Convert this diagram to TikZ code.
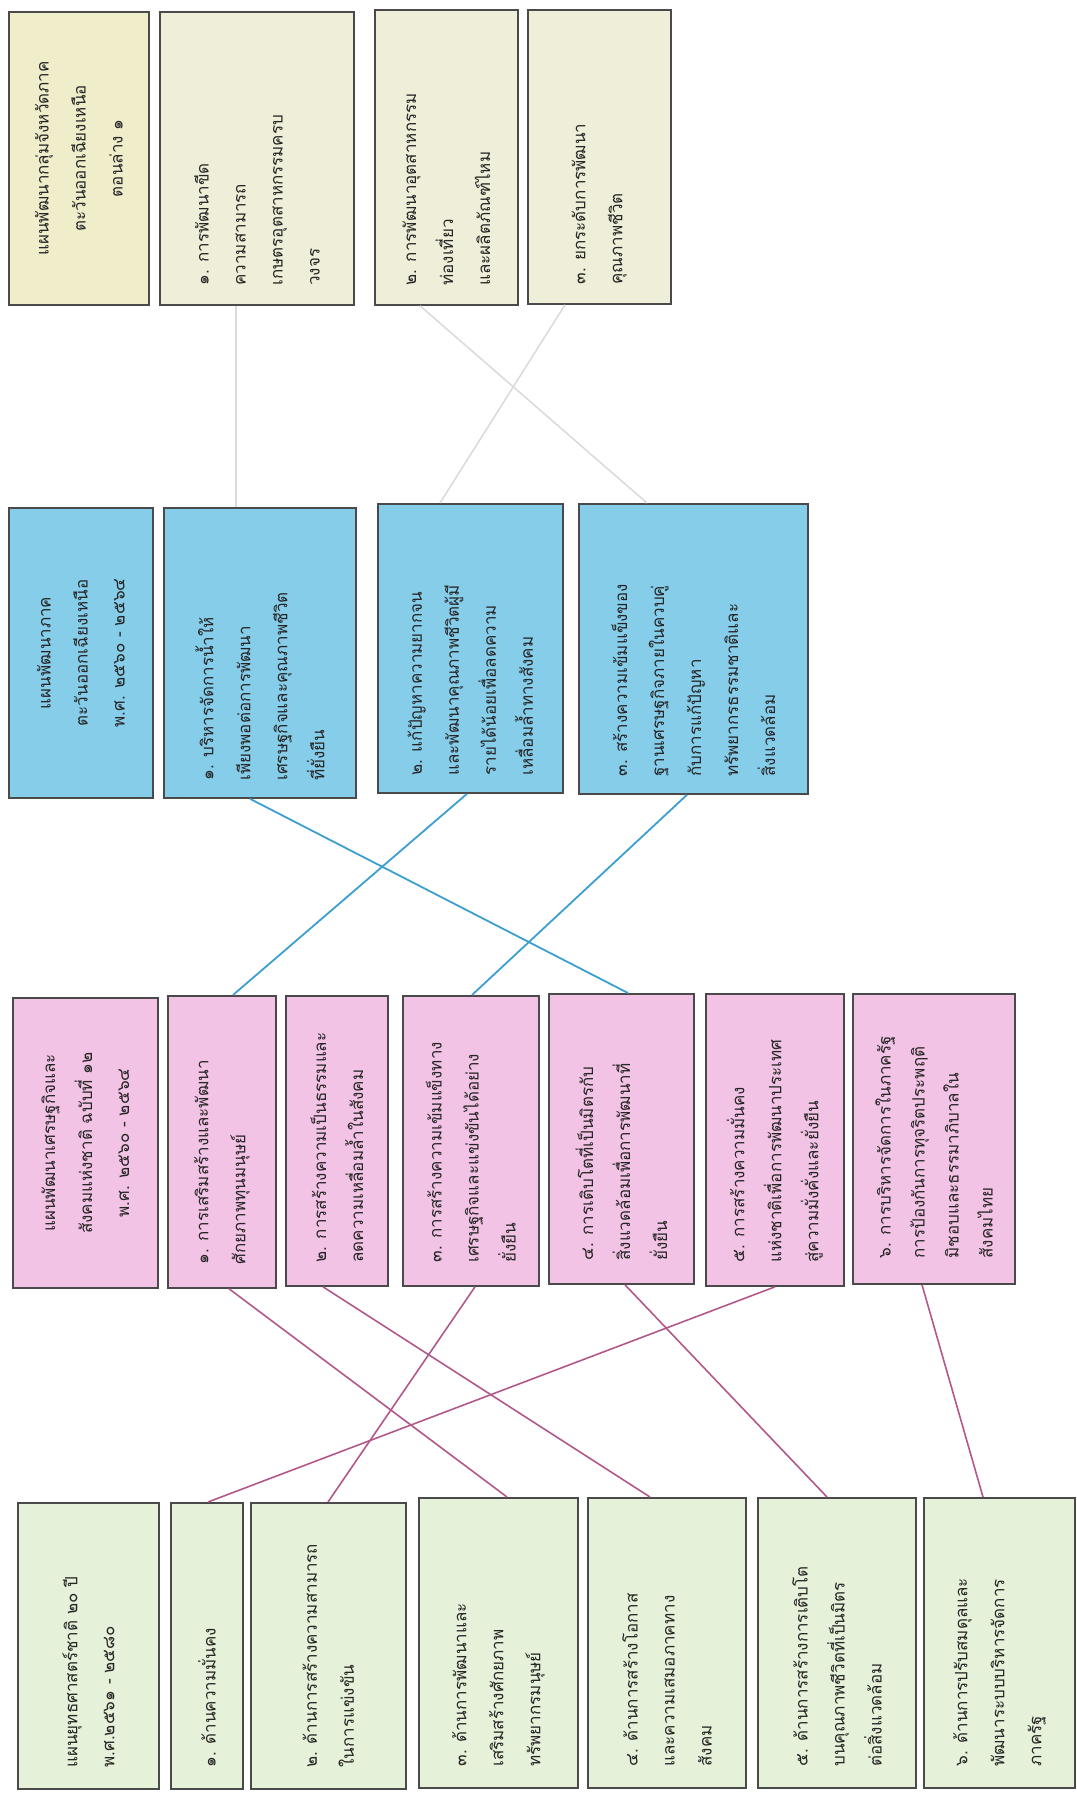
\documentclass[tikz,border=0pt]{standalone}
\usepackage{fontspec}
\newfontfamily\thai[Script=Thai]{Loma}
\usetikzlibrary{calc}
\definecolor{boxline}{HTML}{4A4A4A}
\definecolor{fillTa}{HTML}{F0EDCB}
\definecolor{fillTb}{HTML}{EFEFD9}
\definecolor{fillB}{HTML}{86CDEA}
\definecolor{fillP}{HTML}{F2C3E4}
\definecolor{fillG}{HTML}{E5F1D8}
\definecolor{lnGray}{HTML}{DADADA}
\definecolor{lnBlue}{HTML}{3C9FD0}
\definecolor{lnMag}{HTML}{B2588A}
\tikzset{
  box/.style={draw=boxline, line width=1.8pt, inner sep=0pt, rectangle, anchor=north west},
  txt/.style={rotate=90, align=left, inner sep=0pt, anchor=west, text=black!85,
    font=\thai\fontsize{17}{37}\selectfont},
  hdr/.style={rotate=90, align=center, inner sep=0pt, anchor=center, text=black!85,
    font=\thai\fontsize{17}{37}\selectfont},
  graylink/.style={draw=lnGray, line width=1.5pt},
  bluelink/.style={draw=lnBlue, line width=1.8pt},
  maglink/.style={draw=lnMag, line width=1.6pt}
}
\begin{document}
\begin{tikzpicture}[x=1pt,y=-1pt]
\useasboundingbox (0,0) rectangle (1076,1793);
\fill[white] (0,0) rectangle (1076,1793);

% top row
\node[box, fill=fillTa, minimum width=140, minimum height=293] (t1) at (8,11) {};
\node[box, fill=fillTb, minimum width=194, minimum height=293] (t2) at (159,11) {};
\node[box, fill=fillTb, minimum width=143, minimum height=295] (t3) at (374,9) {};
\node[box, fill=fillTb, minimum width=143, minimum height=294] (t4) at (527,9) {};
% blue row
\node[box, fill=fillB, minimum width=144, minimum height=290] (b1) at (8,507) {};
\node[box, fill=fillB, minimum width=192, minimum height=290] (b2) at (163,507) {};
\node[box, fill=fillB, minimum width=185, minimum height=289] (b3) at (377,503) {};
\node[box, fill=fillB, minimum width=229, minimum height=290] (b4) at (578,503) {};
% pink row
\node[box, fill=fillP, minimum width=145, minimum height=290] (p1) at (12,997) {};
\node[box, fill=fillP, minimum width=108, minimum height=292] (p2) at (167,995) {};
\node[box, fill=fillP, minimum width=102, minimum height=290] (p3) at (285,995) {};
\node[box, fill=fillP, minimum width=136, minimum height=290] (p4) at (402,995) {};
\node[box, fill=fillP, minimum width=145, minimum height=290] (p5) at (548,993) {};
\node[box, fill=fillP, minimum width=138, minimum height=292] (p6) at (705,993) {};
\node[box, fill=fillP, minimum width=162, minimum height=290] (p7) at (852,993) {};
% green row
\node[box, fill=fillG, minimum width=141, minimum height=286] (g1) at (17,1502) {};
\node[box, fill=fillG, minimum width=72, minimum height=286] (g2) at (170,1502) {};
\node[box, fill=fillG, minimum width=155, minimum height=286] (g3) at (250,1502) {};
\node[box, fill=fillG, minimum width=159, minimum height=290] (g4) at (418,1497) {};
\node[box, fill=fillG, minimum width=158, minimum height=290] (g5) at (587,1497) {};
\node[box, fill=fillG, minimum width=158, minimum height=290] (g6) at (757,1497) {};
\node[box, fill=fillG, minimum width=151, minimum height=290] (g7) at (923,1497) {};

% links top -> blue
\draw[graylink] ($(t2.south west)+(77,0)$) -- ($(b2.north west)+(73,0)$);
\draw[graylink] ($(t3.south west)+(46,0)$) -- ($(b4.north west)+(69,0)$);
\draw[graylink] ($(t4.south west)+(38,0)$) -- ($(b3.north west)+(63,0)$);
% links blue -> pink
\draw[bluelink] ($(b2.south west)+(87,0)$) -- ($(p5.north west)+(80,0)$);
\draw[bluelink] ($(b3.south west)+(90,0)$) -- ($(p2.north west)+(66,0)$);
\draw[bluelink] ($(b4.south west)+(109,0)$) -- ($(p4.north west)+(70,0)$);
% links pink -> green
\draw[maglink] ($(g2.north west)+(38,0)$) -- ($(p6.south west)+(70,0)$);
\draw[maglink] ($(g3.north west)+(78,0)$) -- ($(p4.south west)+(73,0)$);
\draw[maglink] ($(g4.north west)+(89,0)$) -- ($(p2.south west)+(62,0)$);
\draw[maglink] ($(g5.north west)+(63,0)$) -- ($(p3.south west)+(38,0)$);
\draw[maglink] ($(g6.north west)+(70,0)$) -- ($(p5.south west)+(77,0)$);
\draw[maglink] ($(g7.north west)+(60,0)$) -- ($(p7.south west)+(70,0)$);

% ---------- texts ----------
\node[hdr] (t1t) at (t1.center) {แผนพัฒนากลุ่มจังหวัดภาค\\ตะวันออกเฉียงเหนือ\\ตอนล่าง ๑};
\node[txt] (t2t) at ($(t2.south)+(0,-20)$) {๑. การพัฒนาขีด\\ความสามารถ\\เกษตรอุตสาหกรรมครบ\\วงจร};
\node[txt] (t3t) at ($(t3.south)+(0,-20)$) {๒. การพัฒนาอุตสาหกรรม\\ท่องเที่ยว\\และผลิตภัณฑ์ไหม};
\node[txt] (t4t) at ($(t4.south)+(0,-20)$) {๓. ยกระดับการพัฒนา\\คุณภาพชีวิต};

\node[hdr] (b1t) at (b1.center) {แผนพัฒนาภาค\\ตะวันออกเฉียงเหนือ\\พ.ศ. ๒๕๖๐ - ๒๕๖๔};
\node[txt] (b2t) at ($(b2.south)+(0,-18)$) {๑. บริหารจัดการน้ำให้\\เพียงพอต่อการพัฒนา\\เศรษฐกิจและคุณภาพชีวิต\\ที่ยั่งยืน};
\node[txt] (b3t) at ($(b3.south)+(0,-18)$) {๒. แก้ปัญหาความยากจน\\และพัฒนาคุณภาพชีวิตผู้มี\\รายได้น้อยเพื่อลดความ\\เหลื่อมล้ำทางสังคม};
\node[txt] (b4t) at ($(b4.south)+(0,-18)$) {๓. สร้างความเข้มแข็งของ\\ฐานเศรษฐกิจภายในควบคู่\\กับการแก้ปัญหา\\ทรัพยากรธรรมชาติและ\\สิ่งแวดล้อม};

\node[hdr] (p1t) at (p1.center) {แผนพัฒนาเศรษฐกิจและ\\สังคมแห่งชาติ ฉบับที่ ๑๒\\พ.ศ. ๒๕๖๐ - ๒๕๖๔};
\node[txt] (p2t) at ($(p2.south)+(0,-24)$) {๑. การเสริมสร้างและพัฒนา\\ศักยภาพทุนมนุษย์};
\node[txt] (p3t) at ($(p3.south)+(0,-24)$) {๒. การสร้างความเป็นธรรมและ\\ลดความเหลื่อมล้ำในสังคม};
\node[txt] (p4t) at ($(p4.south)+(0,-24)$) {๓. การสร้างความเข้มแข็งทาง\\เศรษฐกิจและแข่งขันได้อย่าง\\ยั่งยืน};
\node[txt] (p5t) at ($(p5.south)+(0,-24)$) {๔. การเติบโตที่เป็นมิตรกับ\\สิ่งแวดล้อมเพื่อการพัฒนาที่\\ยั่งยืน};
\node[txt] (p6t) at ($(p6.south)+(0,-24)$) {๕. การสร้างความมั่นคง\\แห่งชาติเพื่อการพัฒนาประเทศ\\สู่ความมั่งคั่งและยั่งยืน};
\node[txt, font=\thai\fontsize{17}{34}\selectfont] (p7t) at ($(p7.south)+(0,-26)$) {๖. การบริหารจัดการในภาครัฐ\\การป้องกันการทุจริตประพฤติ\\มิชอบและธรรมาภิบาลใน\\สังคมไทย};

\node[txt] (g1t) at ($(g1.south)+(0,-22)$) {แผนยุทธศาสตร์ชาติ ๒๐ ปี\\พ.ศ.๒๕๖๑ - ๒๕๘๐};
\node[txt] (g2t) at ($(g2.south)+(0,-22)$) {๑. ด้านความมั่นคง};
\node[txt] (g3t) at ($(g3.south)+(0,-22)$) {๒. ด้านการสร้างความสามารถ\\ในการแข่งขัน};
\node[txt] (g4t) at ($(g4.south)+(0,-22)$) {๓. ด้านการพัฒนาและ\\เสริมสร้างศักยภาพ\\ทรัพยากรมนุษย์};
\node[txt] (g5t) at ($(g5.south)+(0,-22)$) {๔. ด้านการสร้างโอกาส\\และความเสมอภาคทาง\\สังคม};
\node[txt] (g6t) at ($(g6.south)+(0,-22)$) {๕. ด้านการสร้างการเติบโต\\บนคุณภาพชีวิตที่เป็นมิตร\\ต่อสิ่งแวดล้อม};
\node[txt] (g7t) at ($(g7.south)+(0,-22)$) {๖. ด้านการปรับสมดุลและ\\พัฒนาระบบบริหารจัดการ\\ภาครัฐ};
\end{tikzpicture}
\end{document}
